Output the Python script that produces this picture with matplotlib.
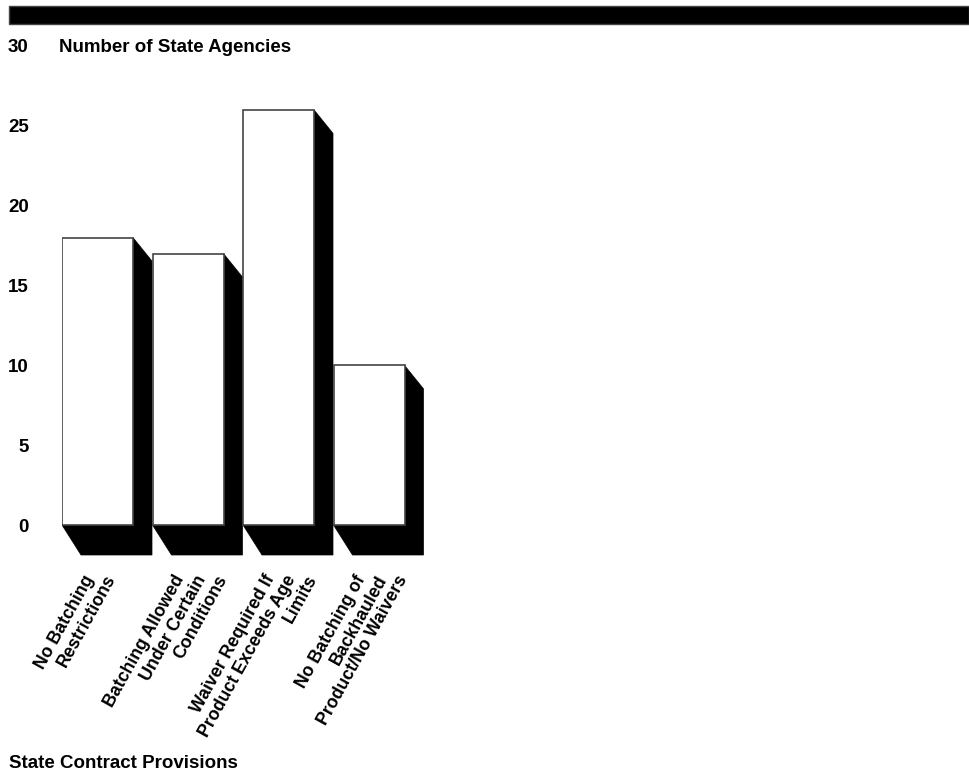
import matplotlib
matplotlib.use("Agg")
import matplotlib.pyplot as plt
from matplotlib.patches import Polygon, Rectangle

provisions = [
    ["No Batching", "Restrictions"],
    ["Batching Allowed", "Under Certain", "Conditions"],
    ["Waiver Required If", "Product Exceeds Age", "Limits"],
    ["No Batching of", "Backhauled", "Product/No Waivers"],
]
agencies = [18, 17, 26, 10]
y_ticks = [0, 5, 10, 15, 20, 25, 30]

W, H = 969, 773
plt.rcParams["font.family"] = ["Liberation Sans", "DejaVu Sans"]
plt.rcParams["font.weight"] = "bold"
FS = 13.5
FS_LAB = 12.8

fig = plt.figure(figsize=(W / 100, H / 100), dpi=100)

# axes placed so that 0 -> y=525px, 30 -> y=46px, bar slots 90.5px wide starting at x=62
px_unit_y = (525 - 46) / 30.0
slot = 90.5
ymin, ymax = -2.2, 30
ax_left, ax_right = 62, 969
ax_top = 525 - ymax * px_unit_y
ax_bot = 525 - ymin * px_unit_y
ax = fig.add_axes([ax_left / W, 1 - ax_bot / H, (ax_right - ax_left) / W, (ax_bot - ax_top) / H])
ax.set_xlim(0, (ax_right - ax_left) / slot)
ax.set_ylim(ymin, ymax)

bw = 71 / slot
dx = 19 / slot
dy_top = 23.5 / px_unit_y
dy_bot = 30 / px_unit_y

for i, v in enumerate(agencies):
    x0, x1 = i, i + bw
    shadow = Polygon([(x1, v), (x1 + dx, v - dy_top), (x1 + dx, -dy_bot),
                      (x0 + dx, -dy_bot), (x0, 0), (x1, 0)],
                     closed=True, facecolor="black", edgecolor="black", lw=0.5)
    ax.add_patch(shadow)
    ax.add_patch(Rectangle((x0, 0), bw, v, facecolor="white", edgecolor="#444444", lw=1.2))
    # each label line ends on the same horizontal line, stepping right
    for k, line in enumerate(provisions[i]):
        ax.text(x0 + (21 + 21 * k) / slot, -2.95, line, rotation=61,
                rotation_mode="anchor", ha="right", va="top", fontsize=FS_LAB,
                fontweight="bold", clip_on=False)

ax.set_xticks([])
ax.set_yticks(y_ticks)
ax.set_yticklabels([str(t) for t in y_ticks], fontsize=FS, fontweight="bold")
ax.tick_params(axis="y", length=0, pad=24)
for s in ax.spines.values():
    s.set_visible(False)

fig.patches.append(Rectangle((9 / W, 1 - 24 / H), (W - 9) / W, 18 / H,
                             transform=fig.transFigure, facecolor="black",
                             edgecolor="#444444", lw=1))
fig.text(59 / W, 1 - 47 / H, "Number of State Agencies", fontsize=FS,
         fontweight="bold", va="center", ha="left")
fig.text(9 / W, 1 - 763 / H, "State Contract Provisions", fontsize=FS,
         fontweight="bold", va="center", ha="left")

fig.savefig("out.png", dpi=100)
